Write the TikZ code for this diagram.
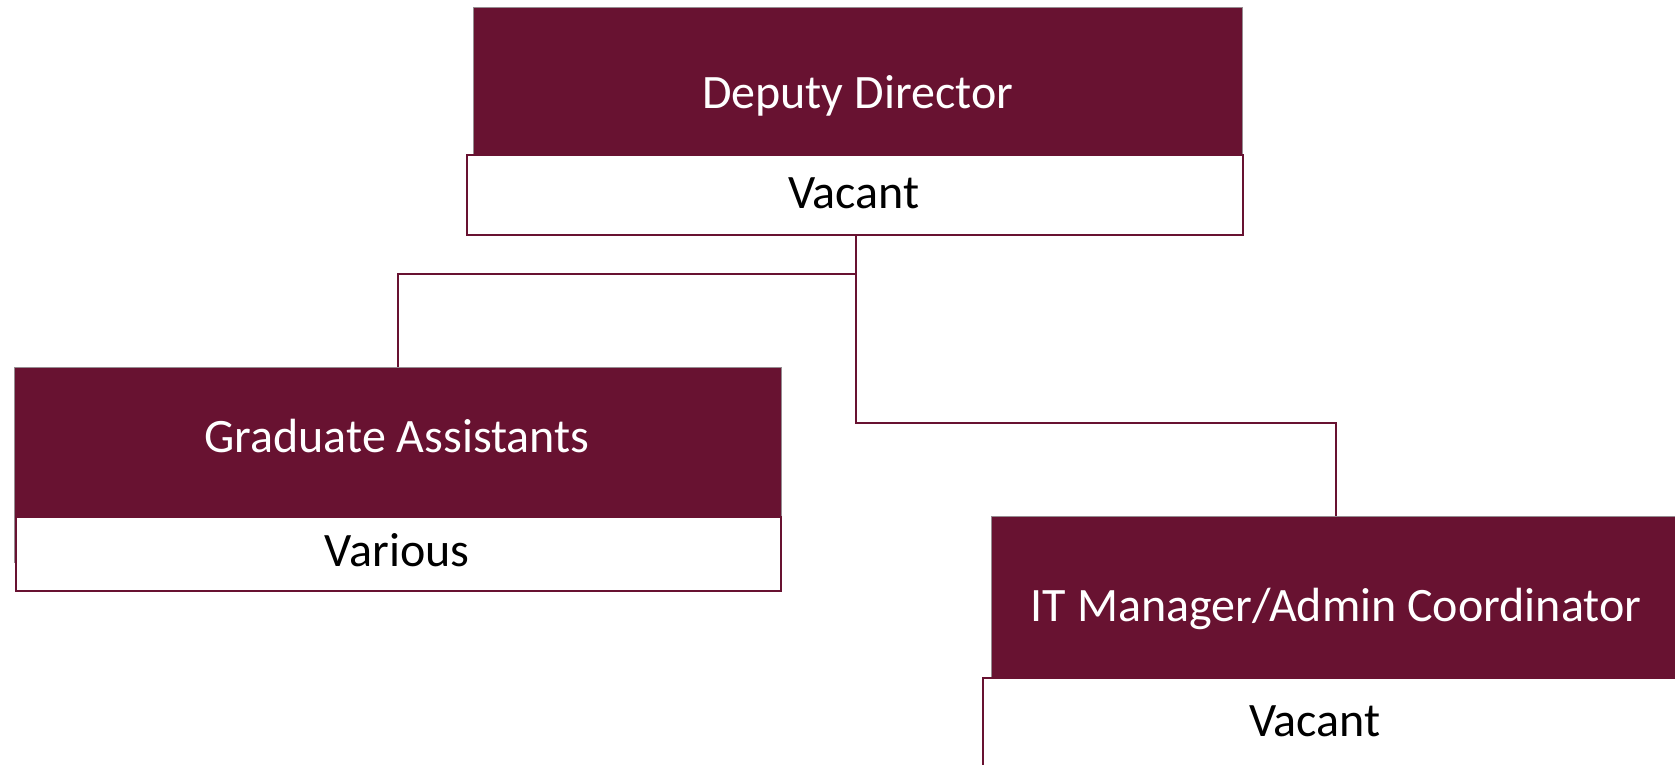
\documentclass[tikz,border=0pt]{standalone}
\usepackage{fontspec}
\setmainfont{Carlito}
\definecolor{maroon}{RGB}{104,18,49}
\definecolor{edgegray}{RGB}{150,140,145}
\begin{document}
\begin{tikzpicture}[x=1pt,y=-1pt,
  titlebox/.style={draw=edgegray,line width=1pt,fill=maroon,rectangle,inner sep=0pt,anchor=north west},
  namebox/.style={draw=maroon,line width=1.5pt,fill=white,rectangle,inner sep=0pt,anchor=north west},
  titletext/.style={text=white,font=\fontsize{48}{57}\selectfont,anchor=base,inner sep=0pt},
  nametext/.style={text=black,font=\fontsize{48}{57}\selectfont,anchor=base,inner sep=0pt},
  conn/.style={draw=maroon,line width=2pt}]
\useasboundingbox (0,0) rectangle (1675,764);
\clip (0,0) rectangle (1675,764);
% top box
\node[titlebox,minimum width=769pt,minimum height=200pt] (ddt) at (473,7) {};
\node[namebox,minimum width=776pt,minimum height=80pt] (ddn) at (466,154) {};
\node[titletext] (ddtt) at (857.5,108) {Deputy Director};
\node[nametext] (ddnt) at (854,208) {Vacant};
% left box
\node[titlebox,minimum width=767pt,minimum height=195pt] (gat) at (14,367) {};
\node[namebox,minimum width=765pt,minimum height=74pt] (gan) at (15,516) {};
\node[titletext] (gatt) at (397,452) {Graduate Assistants};
\node[nametext] (gant) at (397,566) {Various};
% right box
\node[titlebox,minimum width=689pt,minimum height=200pt] (itt) at (991,516) {};
\node[namebox,minimum width=720pt,minimum height=120pt] (itn) at (982,677) {};
\node[titletext] (ittt) at (1336,621) {IT Manager/Admin Coordinator};
\node[nametext] (itnt) at (1315,736) {Vacant};
% connectors
\coordinate (j1) at (856,274);
\coordinate (j2) at (856,423);
\draw[conn] (j1 |- ddn.south) -- (j1) -| (gat.north);
\draw[conn] (j1) -- (j2) -| (itt.north);
\end{tikzpicture}
\end{document}
